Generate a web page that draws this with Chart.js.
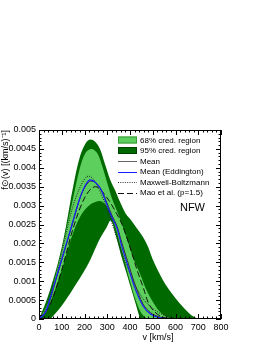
<!DOCTYPE html>
<html>
<head>
<meta charset="utf-8">
<script src="https://cdn.jsdelivr.net/npm/chart.js@4/dist/chart.umd.min.js"></script>
<style>
  body { margin: 0; background: #fff; }
  canvas { display: block; }
</style>
</head>
<body>
<canvas id="myChart" width="266" height="344"></canvas>
<script>
// speed values (km/s) and f(v) values
let up95V = [0, 30, 50, 75, 100, 120, 150, 180, 205, 225, 245, 268, 290, 312, 335, 356, 380, 400, 430, 457, 480, 501, 530, 563, 600, 633, 670, 700]
let up95F = [0, 0.00044, 0.0008, 0.0013, 0.0019, 0.0025, 0.0035, 0.0043, 0.00465, 0.00475, 0.0047, 0.0045, 0.0041, 0.0037, 0.0034, 0.0031, 0.0028, 0.00265, 0.0024, 0.00217, 0.0019, 0.00156, 0.0012, 0.00085, 0.00055, 0.00032, 0.0001, 0]

let up68V = [0, 30, 50, 75, 100, 125, 150, 180, 205, 230, 255, 275, 300, 320, 340, 365, 387, 415, 444, 470, 501, 530, 563, 590]
let up68F = [0, 0.0003, 0.0006, 0.0012, 0.0018, 0.0025, 0.0032, 0.004, 0.0044, 0.0045, 0.0044, 0.0041, 0.0036, 0.0032, 0.0029, 0.0025, 0.0021, 0.0016, 0.0012, 0.0008, 0.00045, 0.0002, 0.00005, 0]

let lo68V = [0, 30, 60, 100, 140, 180, 220, 250, 270, 295, 320, 340, 360, 380, 400, 425, 450, 475]
let lo68F = [0, 0.0002, 0.0006, 0.0013, 0.0021, 0.0027, 0.003, 0.0031, 0.00312, 0.003, 0.0027, 0.00235, 0.0019, 0.00145, 0.001, 0.0005, 0.00015, 0]

let lo95V = [50, 100, 150, 200, 225, 250, 275, 295, 316, 338, 360, 380, 400, 420, 444]
let lo95F = [0, 0.00035, 0.0008, 0.00128, 0.00156, 0.0019, 0.0022, 0.0024, 0.0026, 0.0022, 0.0017, 0.0013, 0.0009, 0.0005, 0]

let meanV = [0, 30, 57, 101, 145, 180, 205, 228, 250, 275, 300, 320, 343, 365, 391, 420, 457, 490, 532, 580]
let meanF = [0, 0.0002, 0.0007, 0.00158, 0.00248, 0.0032, 0.00352, 0.00365, 0.0036, 0.0034, 0.00305, 0.00275, 0.00245, 0.002, 0.0015, 0.00095, 0.0004, 0.00017, 0.00005, 0]

let eddV = [0, 30, 57, 101, 145, 180, 205, 225, 250, 275, 300, 320, 343, 365, 391, 420, 457, 490, 532, 570]
let eddF = [0, 0.0002, 0.00071, 0.0016, 0.0025, 0.0032, 0.00355, 0.00368, 0.0036, 0.0034, 0.003, 0.0027, 0.0024, 0.0019, 0.0014, 0.00085, 0.00035, 0.00013, 0.00003, 0]

let mbV = [0, 50, 100, 150, 200, 218, 250, 300, 350, 400, 450, 500, 550, 600]
let mbF = [0, 0.0005, 0.00175, 0.003, 0.0037, 0.00378, 0.0036, 0.0029, 0.002, 0.0012, 0.0006, 0.00028, 0.0001, 0]

let maoV = [0, 50, 100, 150, 200, 248, 300, 340, 365, 400, 431, 460, 479, 510, 545, 600]
let maoF = [0, 0.0004, 0.0013, 0.0024, 0.0032, 0.0035, 0.0032, 0.0028, 0.0025, 0.0019, 0.0013, 0.0008, 0.00045, 0.00018, 0.00005, 0]

let xTicks = [0, 100, 200, 300, 400, 500, 600, 700, 800]
let yTicks = [0, 0.0005, 0.001, 0.0015, 0.002, 0.0025, 0.003, 0.0035, 0.004, 0.0045, 0.005]

const lightGreen = '#5ccf5c'
const darkGreen = '#006a00'
const font = '"Liberation Sans", Arial, sans-serif'

function pts(vs, fs) {
    return vs.map((v, i) => ({x: v, y: fs[i]}))
}

function band(data, color, order) {
    return {
        data: data, borderWidth: 0, borderColor: color, backgroundColor: color,
        fill: 'origin', pointRadius: 0, tension: 0.35, order: order
    }
}

function curve(data, color, width, dash, order) {
    return {
        data: data, borderWidth: width, borderColor: color, borderDash: dash,
        fill: false, pointRadius: 0, cubicInterpolationMode: 'monotone', order: order
    }
}

// frame, inward ticks on all sides, titles and legend
const decor = {
    id: 'decor',
    afterDraw(chart) {
        let ctx = chart.ctx
        let a = chart.chartArea
        let xs = chart.scales.x, ys = chart.scales.y
        ctx.save()
        ctx.strokeStyle = '#000'
        ctx.lineWidth = 1
        ctx.strokeRect(a.left + 0.5, a.top + 0.5, a.right - a.left - 1, a.bottom - a.top - 1)
        ctx.beginPath()
        for (let v = 0; v <= 800; v += 20) {
            let px = Math.round(xs.getPixelForValue(v)) + 0.5
            let len = v % 100 === 0 ? 5 : 2.5
            ctx.moveTo(px, a.bottom); ctx.lineTo(px, a.bottom - len)
            ctx.moveTo(px, a.top); ctx.lineTo(px, a.top + len)
        }
        for (let k = 0; k <= 50; k++) {
            let py = Math.round(ys.getPixelForValue(k * 0.0001)) + 0.5
            let len = k % 5 === 0 ? 5 : 2.5
            ctx.moveTo(a.left, py); ctx.lineTo(a.left + len, py)
            ctx.moveTo(a.right, py); ctx.lineTo(a.right - len, py)
        }
        ctx.stroke()

        ctx.fillStyle = '#000'
        ctx.font = '9px ' + font
        ctx.textAlign = 'center'
        ctx.textBaseline = 'middle'
        ctx.fillText('v [km/s]', 158, 338)

        ctx.save()
        ctx.translate(8, 130)
        ctx.rotate(-Math.PI / 2)
        ctx.textAlign = 'right'
        ctx.textBaseline = 'alphabetic'
        ctx.fillText('f\u2299(v) [(km/s)\u207B\u00B9]', 0, 0)
        ctx.restore()

        // legend
        let rows = [
            {label: '68% cred. region', box: lightGreen, edge: '#3a9a3a'},
            {label: '95% cred. region', box: darkGreen, edge: '#004000'},
            {label: 'Mean', line: '#666', dash: [], w: 1},
            {label: 'Mean (Eddington)', line: '#1a1aff', dash: [], w: 1},
            {label: 'Maxwell-Boltzmann', line: '#333', dash: [1, 1.3], w: 1},
            {label: 'Mao et al. (p=1.5)', line: '#111', dash: [6, 3], w: 1}
        ]
        let ry = [140, 150.5, 161, 171.5, 182, 192.5]
        ctx.font = '8px ' + font
        ctx.textAlign = 'left'
        ctx.textBaseline = 'middle'
        rows.forEach((r, i) => {
            let y = ry[i]
            if (r.box) {
                ctx.fillStyle = r.box
                ctx.fillRect(118, y - 3.5, 19, 7)
                ctx.strokeStyle = r.edge
                ctx.setLineDash([])
                ctx.strokeRect(118.5, y - 3, 18, 6)
            } else {
                ctx.strokeStyle = r.line
                ctx.lineWidth = r.w
                ctx.setLineDash(r.dash)
                ctx.beginPath()
                ctx.moveTo(118, Math.round(y) + 0.5)
                ctx.lineTo(137, Math.round(y) + 0.5)
                ctx.stroke()
            }
            ctx.fillStyle = '#000'
            ctx.fillText(r.label, 140, y + 0.5)
        })
        ctx.setLineDash([])
        ctx.font = '11px ' + font
        ctx.textAlign = 'right'
        ctx.fillText('NFW', 205, 208)
        ctx.restore()
    }
}

let chart = new Chart('myChart', {
    type: 'line',
    data: {
        datasets: [
            curve(pts(eddV, eddF), '#1a1aff', 1.2, [], 1),
            curve(pts(meanV, meanF), '#333', 1, [], 2),
            curve(pts(maoV, maoF), '#111', 1, [6, 3], 3),
            curve(pts(mbV, mbF), '#222', 1, [1, 1.3], 4),
            band(pts(lo95V, lo95F), '#ffffff', 7),
            band(pts(lo68V, lo68F), darkGreen, 8),
            band(pts(up68V, up68F), lightGreen, 9),
            band(pts(up95V, up95F), darkGreen, 10)
        ]
    },
    options: {
        responsive: false,
        animation: false,
        layout: {padding: {left: 0, top: 130, right: 45, bottom: 0}},
        plugins: {legend: {display: false}, tooltip: {enabled: false}},
        scales: {
            x: {
                type: 'linear', min: 0, max: 800,
                grid: {display: false, drawTicks: false, tickLength: 0}, border: {display: false},
                afterFit: (s) => { s.height = 25 },
                afterBuildTicks: (s) => { s.ticks = xTicks.map(v => ({value: v})) },
                ticks: {
                    color: '#000', padding: 3, maxRotation: 0, autoSkip: false,
                    font: {family: font, size: 9}
                }
            },
            y: {
                type: 'linear', min: 0, max: 0.005,
                grid: {display: false, drawTicks: false, tickLength: 0}, border: {display: false},
                afterFit: (s) => { s.width = 39 },
                afterBuildTicks: (s) => { s.ticks = yTicks.map(v => ({value: v})) },
                ticks: {
                    color: '#000', padding: 3,
                    font: {family: font, size: 9},
                    callback: (v) => v === 0 ? '0' : String(parseFloat(v.toFixed(4)))
                }
            }
        }
    },
    plugins: [decor]
})
</script>
</body>
</html>
